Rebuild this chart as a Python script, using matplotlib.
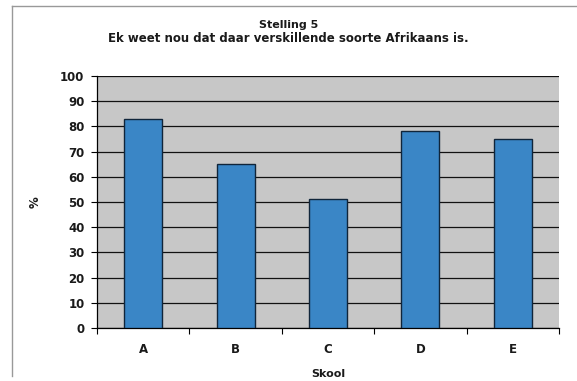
import matplotlib
matplotlib.use("Agg")
import matplotlib.pyplot as plt
import numpy as np
from matplotlib.lines import Line2D

schools = ["A", "B", "C", "D", "E"]
percent = [83, 65, 51, 78, 75]
y_ticks = [0, 10, 20, 30, 40, 50, 60, 70, 80, 90, 100]

plt.rcParams["font.family"] = ["DejaVu Sans"]
plt.rcParams["font.weight"] = "bold"

fig = plt.figure(figsize=(5.77, 3.81), dpi=100)
W, H = 577, 381
ax = fig.add_axes([97 / W, 1 - 328 / H, (559 - 97) / W, (328 - 76) / H])

x = np.arange(len(schools))
ax.set_facecolor("#c7c7c7")
ax.bar(x, percent, width=0.41, color="#3a86c6", edgecolor="#10253a", linewidth=1.0, zorder=3)

ax.set_xlim(-0.5, len(schools) - 0.5)
ax.set_ylim(0, 100)
ax.set_yticks(y_ticks)
ax.set_yticklabels([str(v) for v in y_ticks], fontsize=8.5, fontweight="bold", color="#1a1a1a")
ax.yaxis.grid(True, color="#111111", linewidth=0.9, zorder=1)
ax.set_axisbelow(True)

ax.set_xticks(x)
ax.set_xticklabels(schools, fontsize=8.5, fontweight="bold", color="#1a1a1a")
ax.set_xticks(np.arange(-0.5, len(schools)), minor=True)
ax.tick_params(axis="x", which="major", length=0, pad=11)
ax.tick_params(axis="x", which="minor", length=4, width=0.8, direction="out")
ax.tick_params(axis="y", length=4, width=0.8, pad=5)

for side in ["top", "right"]:
    ax.spines[side].set_visible(False)
ax.spines["left"].set_linewidth(0.9)
ax.spines["bottom"].set_linewidth(0.9)

ax.set_xlabel("Skool", fontsize=8, fontweight="bold", labelpad=9, color="#1a1a1a")
ax.set_ylabel("%", fontsize=8.5, fontweight="bold", labelpad=13, color="#1a1a1a")

fig.text(0.5, 1 - 25 / H, "Stelling 5", ha="center", va="center",
         fontsize=8, fontweight="bold", color="#1a1a1a")
fig.text(0.5, 1 - 39 / H, "Ek weet nou dat daar verskillende soorte Afrikaans is.",
         ha="center", va="center", fontsize=8.5, fontweight="bold", color="#1a1a1a")

# chart frame (top and left edges)
fig.add_artist(Line2D([12 / W, 12 / W], [1 - 376 / H, 1 - 6 / H], color="#999999", linewidth=1.0))
fig.add_artist(Line2D([12 / W, 1.0], [1 - 6 / H, 1 - 6 / H], color="#999999", linewidth=1.0))

fig.savefig("out.png", dpi=100)
